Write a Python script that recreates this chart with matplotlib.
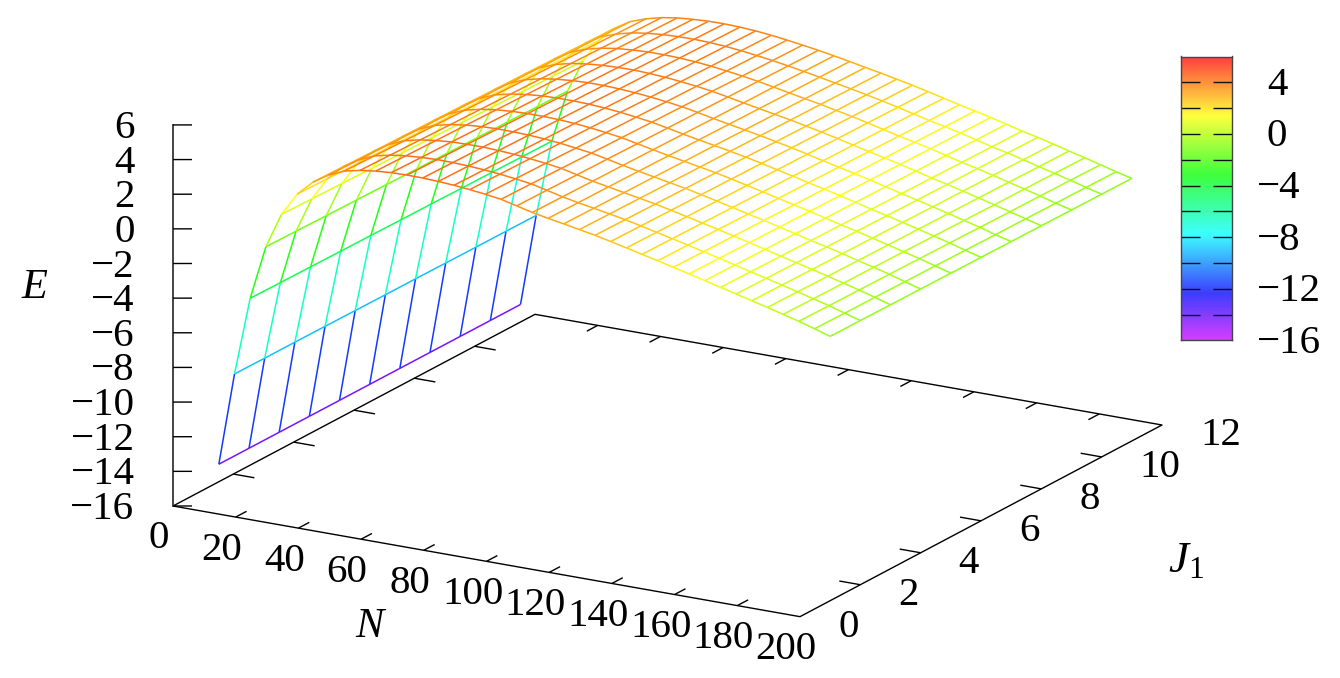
import numpy as np
import matplotlib
matplotlib.use("Agg")
from matplotlib import pyplot as plt
from matplotlib.colors import ListedColormap, Normalize, hsv_to_rgb
from mpl_toolkits.mplot3d import proj3d
from mpl_toolkits.mplot3d.art3d import Line3DCollection

plt.rcParams['font.family'] = ['Liberation Serif', 'DejaVu Serif']
plt.rcParams['mathtext.fontset'] = 'custom'
plt.rcParams['mathtext.rm'] = 'Liberation Serif'
plt.rcParams['mathtext.it'] = 'Liberation Serif:italic'

W, H = 1340, 678

N_VALUES = list(range(5, 205, 5))
J_VALUES = list(range(1, 12))

# one row per N, one column per J (1..11)
E_VALUES = [
    [-14.35, -14.35, -14.35, -14.35, -14.35, -14.35, -14.35, -14.35, -14.35, -14.35, -14.35],
    [-8.98, -8.99, -8.99, -9.00, -9.01, -9.02, -9.02, -9.03, -9.04, -9.04, -9.05],
    [-4.45, -4.47, -4.48, -4.50, -4.51, -4.53, -4.54, -4.56, -4.57, -4.59, -4.60],
    [-1.32, -1.34, -1.37, -1.39, -1.41, -1.44, -1.46, -1.48, -1.50, -1.53, -1.55],
    [0.72, 0.68, 0.65, 0.61, 0.58, 0.54, 0.50, 0.47, 0.43, 0.40, 0.36],
    [2.04, 2.01, 1.97, 1.94, 1.90, 1.87, 1.83, 1.80, 1.76, 1.73, 1.69],
    [2.89, 2.86, 2.82, 2.79, 2.76, 2.73, 2.69, 2.66, 2.63, 2.59, 2.56],
    [3.46, 3.42, 3.39, 3.35, 3.32, 3.28, 3.24, 3.21, 3.17, 3.14, 3.10],
    [3.85, 3.81, 3.76, 3.72, 3.68, 3.64, 3.59, 3.55, 3.51, 3.46, 3.42],
    [4.05, 4.01, 3.97, 3.93, 3.89, 3.85, 3.81, 3.77, 3.73, 3.69, 3.65],
    [4.17, 4.13, 4.09, 4.06, 4.02, 3.98, 3.94, 3.90, 3.87, 3.83, 3.79],
    [4.24, 4.20, 4.17, 4.13, 4.09, 4.06, 4.02, 3.98, 3.94, 3.91, 3.87],
    [4.26, 4.23, 4.19, 4.16, 4.12, 4.09, 4.06, 4.02, 3.99, 3.95, 3.92],
    [4.25, 4.22, 4.19, 4.15, 4.12, 4.09, 4.06, 4.03, 3.99, 3.96, 3.93],
    [4.21, 4.18, 4.15, 4.12, 4.09, 4.06, 4.02, 3.99, 3.96, 3.93, 3.90],
    [4.15, 4.12, 4.09, 4.06, 4.03, 4.00, 3.96, 3.93, 3.90, 3.87, 3.84],
    [4.06, 4.03, 4.00, 3.97, 3.94, 3.91, 3.87, 3.84, 3.81, 3.78, 3.75],
    [3.95, 3.92, 3.89, 3.85, 3.82, 3.79, 3.76, 3.73, 3.69, 3.66, 3.63],
    [3.82, 3.79, 3.76, 3.72, 3.69, 3.66, 3.63, 3.60, 3.56, 3.53, 3.50],
    [3.60, 3.58, 3.55, 3.53, 3.50, 3.48, 3.46, 3.43, 3.41, 3.38, 3.36],
    [3.38, 3.36, 3.34, 3.33, 3.31, 3.29, 3.27, 3.25, 3.24, 3.22, 3.20],
    [3.20, 3.18, 3.17, 3.15, 3.13, 3.12, 3.10, 3.08, 3.06, 3.05, 3.03],
    [3.04, 3.02, 3.00, 2.98, 2.96, 2.95, 2.93, 2.91, 2.89, 2.87, 2.85],
    [2.87, 2.85, 2.83, 2.81, 2.79, 2.78, 2.76, 2.74, 2.72, 2.70, 2.68],
    [2.70, 2.68, 2.66, 2.64, 2.62, 2.60, 2.57, 2.55, 2.53, 2.51, 2.49],
    [2.50, 2.48, 2.46, 2.44, 2.42, 2.40, 2.38, 2.36, 2.34, 2.32, 2.30],
    [2.29, 2.27, 2.25, 2.23, 2.21, 2.19, 2.17, 2.15, 2.13, 2.11, 2.09],
    [2.08, 2.06, 2.04, 2.02, 2.00, 1.98, 1.95, 1.93, 1.91, 1.89, 1.87],
    [1.87, 1.85, 1.83, 1.80, 1.78, 1.76, 1.74, 1.72, 1.69, 1.67, 1.65],
    [1.65, 1.63, 1.61, 1.59, 1.57, 1.55, 1.53, 1.51, 1.49, 1.47, 1.45],
    [1.43, 1.41, 1.39, 1.37, 1.35, 1.34, 1.32, 1.30, 1.28, 1.26, 1.24],
    [1.20, 1.18, 1.16, 1.14, 1.12, 1.11, 1.09, 1.07, 1.05, 1.03, 1.01],
    [0.97, 0.95, 0.93, 0.91, 0.89, 0.87, 0.85, 0.83, 0.81, 0.79, 0.77],
    [0.75, 0.73, 0.71, 0.70, 0.68, 0.66, 0.64, 0.62, 0.61, 0.59, 0.57],
    [0.52, 0.50, 0.48, 0.47, 0.45, 0.43, 0.41, 0.39, 0.38, 0.36, 0.34],
    [0.29, 0.27, 0.25, 0.23, 0.21, 0.20, 0.18, 0.16, 0.14, 0.12, 0.10],
    [0.05, 0.03, 0.01, 0.00, -0.02, -0.04, -0.06, -0.08, -0.09, -0.11, -0.13],
    [-0.19, -0.21, -0.23, -0.24, -0.26, -0.28, -0.30, -0.32, -0.33, -0.35, -0.37],
    [-0.46, -0.48, -0.49, -0.51, -0.52, -0.54, -0.56, -0.57, -0.59, -0.60, -0.62],
    [-0.74, -0.75, -0.76, -0.77, -0.78, -0.79, -0.80, -0.81, -0.82, -0.83, -0.84],
]

N_TICKS = list(range(0, 220, 20))
J_TICKS = list(range(0, 14, 2))
E_TICKS = list(range(-16, 8, 2))
CB_TICKS = list(range(-14, 6, 2))
CB_LABELS = [4, 0, -4, -8, -12, -16]

FONT_SIZE = 29.5


def palette(sat):
    hue = np.linspace(0.797, 0, 256)
    hsv = np.column_stack([hue, np.full(256, sat), np.ones(256)])
    return ListedColormap(hsv_to_rgb(hsv))


def fmt(v):
    return str(v).replace("-", "\u2212")


fig = plt.figure(figsize=(W / 100, H / 100), dpi=100)
ax = fig.add_axes([0, 0, 1, 1], projection='3d', computed_zorder=False)
ax.set_proj_type('ortho')
ax.view_init(elev=17.8, azim=-60)
ax.set_xlim(0, 200, view_margin=0)
ax.set_ylim(0, 12, view_margin=0)
ax.set_zlim(-16, 6, view_margin=0)
ax.set_box_aspect((1, 1, 0.5528))
ax.set_axis_off()


def project(x, y, z):
    X, Y, _ = proj3d.proj_transform(x, y, z, ax.get_proj())
    return X, Y


# fit the square axes so the base of the box lands on the reference's corners
f0 = ax.transLimits.transform(project(0, 0, -16))
f1 = ax.transLimits.transform(project(200, 0, -16))
S = 627 / (f1[0] - f0[0])
ax.set_position([(173 - S * f0[0]) / W, (H - 506 - S * f0[1]) / H, S / W, S / H])

# surface
E = np.array(E_VALUES)
segs, seg_z = [], []
for i, n in enumerate(N_VALUES):
    for j, J in enumerate(J_VALUES):
        if j + 1 < len(J_VALUES):
            segs.append([(n, J, E[i, j]), (n, J_VALUES[j + 1], E[i, j + 1])])
            seg_z.append((E[i, j] + E[i, j + 1]) / 2)
        if i + 1 < len(N_VALUES):
            segs.append([(n, J, E[i, j]), (N_VALUES[i + 1], J, E[i + 1, j])])
            seg_z.append((E[i, j] + E[i + 1, j]) / 2)
norm = Normalize(-16, 6)
lines = Line3DCollection(segs, colors=palette(0.92)(norm(seg_z)), linewidths=1.1)
ax.add_collection3d(lines)

# box floor, z axis and ticks
axis_kw = dict(color='black', lw=1.0, solid_capstyle='butt')
ax.plot([0, 200, 200, 0, 0], [0, 0, 12, 12, 0], [-16] * 5, **axis_kw)
ax.plot([0, 0], [0, 0], [-16, 6], color='#444444', lw=1.4)
for n in N_TICKS[1:-1]:
    ax.plot([n, n], [0, 0.36], [-16, -16], **axis_kw)
    ax.plot([n, n], [12, 11.64], [-16, -16], **axis_kw)
for J in J_TICKS[1:-1]:
    ax.plot([200, 193.3], [J, J], [-16, -16], **axis_kw)
    ax.plot([0, 6.7], [J, J], [-16, -16], **axis_kw)
for v in E_TICKS:
    ax.plot([0, 4.54], [0, 0.158], [v, v], **axis_kw)

# tick labels
txt_kw = dict(textcoords='offset pixels', fontsize=FONT_SIZE, color='black',
              annotation_clip=False)
for n in N_TICKS:
    ax.annotate(fmt(n), project(n, 0, -16), xytext=(-14, -33), ha='center', va='center', **txt_kw)
for J in J_TICKS:
    ax.annotate(fmt(J), project(200, J, -16), xytext=(38, -11), ha='left', va='center', **txt_kw)
for v in E_TICKS:
    ax.annotate(fmt(v), project(0, 0, v), xytext=(-38.5, -3.5), ha='right', va='center', **txt_kw)

# axis titles
fig.text(34 / W, 1 - 288 / H, 'E', style='italic', fontsize=FONT_SIZE + 1, ha='center', va='center')
fig.text(369 / W, 1 - 627 / H, 'N', style='italic', fontsize=FONT_SIZE + 1, ha='center', va='center')
fig.text(1186 / W, 1 - 561 / H, '$J_1$', fontsize=FONT_SIZE + 3, ha='center', va='center')

# colour box
cax = fig.add_axes([1181 / W, 1 - 340.3 / H, 51 / W, 283.8 / H])
cax.imshow(np.linspace(-16, 6, 256).reshape(-1, 1), origin='lower', aspect='auto',
           extent=(0, 1, -16, 6), cmap=palette(0.76), norm=norm)
cax.set_xticks([])
cax.set_yticks(CB_TICKS)
cax.set_yticklabels([])
cax.tick_params(axis='y', direction='in', left=True, right=True, length=13.7, width=1.0,
                color='#111111')
for sp in cax.spines.values():
    sp.set_color('#444444')
    sp.set_linewidth(1.0)
for v in CB_LABELS:
    dx = 25 if v < 0 else 35
    cax.annotate(fmt(v), (1, v), xycoords=cax.get_yaxis_transform(), xytext=(dx, -3),
                 textcoords='offset pixels', fontsize=FONT_SIZE, ha='left', va='center')

fig.savefig('out.png', dpi=100)
